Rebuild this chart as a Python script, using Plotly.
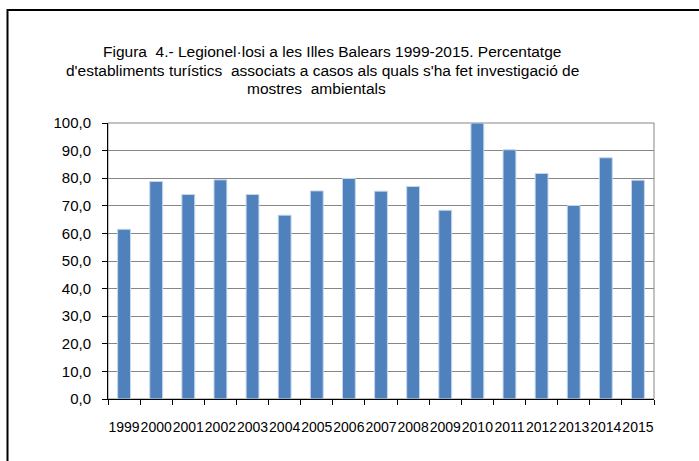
import plotly.graph_objects as go

years = ["1999", "2000", "2001", "2002", "2003", "2004", "2005", "2006", "2007",
         "2008", "2009", "2010", "2011", "2012", "2013", "2014", "2015"]
values = [61.5, 78.8, 74.1, 79.4, 74.1, 66.6, 75.4, 79.9, 75.3,
          77.0, 68.4, 100.0, 90.3, 81.7, 70.1, 87.4, 79.3]
ytick_vals = [0, 10, 20, 30, 40, 50, 60, 70, 80, 90, 100]
ytick_text = ["0,0", "10,0", "20,0", "30,0", "40,0", "50,0", "60,0", "70,0", "80,0", "90,0", "100,0"]

title_lines = ["Figura  4.- Legionel·losi a les Illes Balears 1999-2015. Percentatge",
               "d'establiments turístics  associats a casos als quals s'ha fet investigació de",
               "mostres  ambientals"]

W, H = 699, 461
L, R, T, B = 108, 45, 123, 62
pw = W - L - R
ph = H - T - B

def px_x(x):
    return (x - L) / pw

def px_y(y):
    return (H - B - y) / ph

fig = go.Figure()
fig.add_trace(go.Bar(
    x=years, y=values,
    marker=dict(color="#4F81BD", line=dict(color="#C6D6EA", width=1)),
    width=0.4,
))

fig.update_layout(
    width=W, height=H,
    margin=dict(l=L, r=R, t=T, b=B, autoexpand=False),
    paper_bgcolor="white", plot_bgcolor="white",
    showlegend=False,
    font=dict(family="Liberation Sans, Arial, sans-serif", color="black"),
    xaxis=dict(
        type="category",
        automargin=False,
        tickangle=0,
        showline=True, linecolor="black", linewidth=1,
        ticks="outside", ticklen=5, tickcolor="black", tickson="boundaries",
        showgrid=False,
        tickfont=dict(size=14),
        ticklabelstandoff=15,
    ),
    yaxis=dict(
        automargin=False,
        range=[0, 100],
        tickvals=ytick_vals, ticktext=ytick_text,
        showline=True, linecolor="black", linewidth=1,
        ticks="outside", ticklen=5, tickcolor="black",
        showgrid=True, gridcolor="#868686", gridwidth=1,
        zeroline=False,
        tickfont=dict(size=15),
        ticklabelstandoff=8,
    ),
)

# plot area border (gray)
fig.add_shape(type="rect", xref="paper", yref="paper", x0=0, x1=1, y0=0, y1=1,
              line=dict(color="#868686", width=1), layer="below")

# outer chart frame (top and left edges visible)
fig.add_shape(type="rect", xref="paper", yref="paper",
              x0=px_x(7.5), x1=px_x(720), y0=px_y(480), y1=px_y(10),
              line=dict(color="black", width=2))

line_x = [332, 322, 316]
line_y = [52, 70, 88]
for txt, xx, yy in zip(title_lines, line_x, line_y):
    fig.add_annotation(text=txt, xref="paper", yref="paper",
                       x=px_x(xx), y=px_y(yy), xanchor="center", yanchor="middle",
                       showarrow=False,
                       font=dict(size=15.5, color="black"))

fig.write_html("out.html",
               config={"displayModeBar": False},
               post_script="document.body.style.margin='0';document.body.style.overflow='hidden';")
